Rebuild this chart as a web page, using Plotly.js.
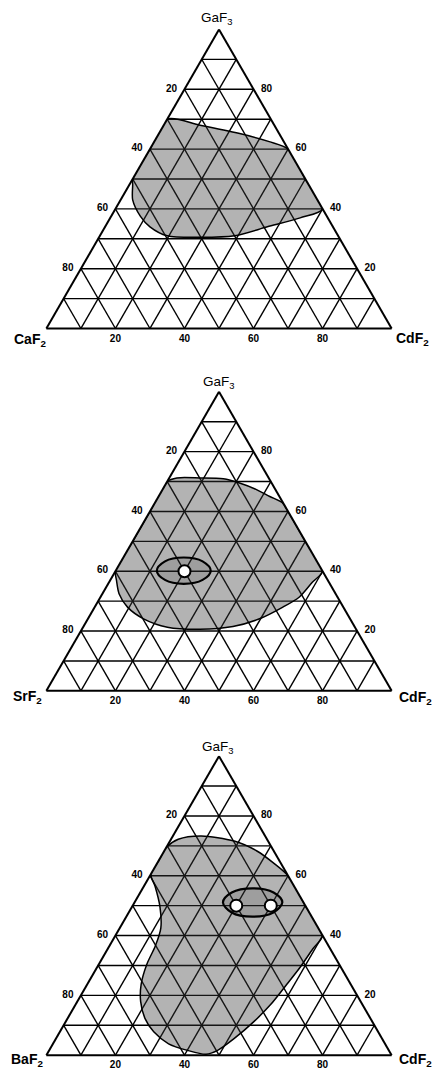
<!DOCTYPE html>
<html>
<head>
<meta charset="utf-8">
<script src="https://cdn.plot.ly/plotly-3.0.1.min.js"></script>
<style>
  html, body { margin: 0; padding: 0; background: #fff; }
  #chart { width: 434px; height: 1070px; }
</style>
</head>
<body>
<div id="chart"></div>
<script>
// Glass-forming regions in GaF3 – MF2 – CdF2 systems (M = Ca, Sr, Ba), mol %.

// Grid every 10 %, labelled at 20/40/60/80 along each edge.
// Left/right edge labels carry a little non-breaking padding to sit clear of the edge.
const gridVals     = [10, 20, 30, 40, 50, 60, 70, 80, 90];
const leftLabels   = ['', '80\u00a0\u00a0', '', '60\u00a0\u00a0', '', '40\u00a0\u00a0', '', '20\u00a0\u00a0', ''];
const bottomLabels = ['', '80', '', '60', '', '40', '', '20', ''];
const rightLabels  = ['', '\u00a0\u00a080', '', '\u00a0\u00a060', '', '\u00a0\u00a040', '', '\u00a0\u00a020', ''];

// GaF3 – CaF2 – CdF2 glass region boundary
const caGa = [70, 68, 65.2, 62.5, 60, 50, 40, 37, 34, 31, 30.5, 31, 34, 37.5, 43, 48, 50, 60, 70];
const caCa = [30, 21.5, 11.4, 4.2, 0, 0, 0, 8, 19, 30, 40, 49.5, 53, 54, 53.5, 51, 50, 40, 30];
const caCd = [0, 10.5, 23.4, 33.3, 40, 50, 60, 55, 47, 39, 29.5, 19.5, 13, 8.5, 3.5, 1, 0, 0, 0];

// GaF3 – SrF2 – CdF2 glass region boundary
const srGa = [70, 71.2, 71.2, 70.9, 69.5, 67.3, 65, 62.8, 60, 50, 40, 36.4, 31.4, 28, 24.1, 21.5, 20.6, 21.3, 24.1, 28, 32.5, 37, 40, 50, 60, 70];
const srSr = [30, 26.6, 19.9, 13.3, 9.3, 5.5, 2.8, 0.1, 0, 0, 0, 4.7, 11, 17.5, 26.2, 35.2, 45.2, 54.3, 59.8, 62.5, 62.7, 61.2, 60, 50, 40, 30];
const srCd = [0, 2.2, 8.9, 15.8, 21.2, 27.2, 32.2, 37.1, 40, 50, 60, 58.9, 57.6, 54.5, 49.7, 43.3, 34.2, 24.4, 16.1, 9.5, 4.8, 1.8, 0, 0, 0, 0];
// inner contour around the SrF2 composition point
const srLoopGa = [40.2, 43.3, 44.6, 43.3, 40.2, 37.1, 35.8, 37.1, 40.2];
const srLoopSr = [47.9, 44.0, 37.9, 33.1, 32.3, 36.2, 42.3, 47.1, 47.9];
const srLoopCd = [11.9, 12.7, 17.5, 23.6, 27.5, 26.7, 21.9, 15.8, 11.9];
const srPointGa = [40];
const srPointSr = [40];
const srPointCd = [20];

// GaF3 – BaF2 – CdF2 glass region boundary
const baGa = [69.5, 72.2, 73.3, 71.6, 68.2, 64.3, 60, 50, 40, 35.5, 29.3, 23.7, 16.9, 11.2, 5.5, 1.6, 0.3, 1.6, 3.8, 7.8, 12.3, 18, 23.7, 30.4, 36.5, 42.5, 49.6, 56.4, 60.5, 65, 69.5];
const baBa = [30.5, 25.7, 18.5, 9.8, 4.8, 2.1, 0, 0, 0, 5.1, 11.9, 18.5, 26.6, 34.3, 42.9, 49.6, 53.6, 58.3, 62.7, 65, 65.3, 63.7, 60.7, 55.7, 50.2, 45.6, 42.3, 40.3, 39.5, 35, 30.5];
const baCd = [0, 2.1, 8.2, 18.6, 27, 33.6, 40, 50, 60, 59.4, 58.8, 57.8, 56.5, 54.5, 51.6, 48.8, 46.1, 40.1, 33.5, 27.2, 22.4, 18.3, 15.6, 13.9, 13.3, 11.9, 8.1, 3.3, 0, 0, 0];
const baLoopGa = [51.1, 54.4, 55.8, 54.4, 51.1, 47.7, 46.3, 47.7, 51.1];
const baLoopBa = [23.3, 19.1, 12.4, 7.0, 6.1, 10.4, 17.2, 22.5, 23.3];
const baLoopCd = [25.6, 26.5, 31.8, 38.6, 42.8, 41.9, 36.5, 29.8, 25.6];
const baPointGa = [50, 50];
const baPointBa = [20, 10];
const baPointCd = [30, 40];

// ---------- page geometry ----------
const W = 434, H = 1070, ML = 22, MR = 18;
const PW = W - ML - MR;
const px2x = px => (px - ML) / PW;
const py2y = py => 1 - py / H;
const HALF = 149.5 / H;           // half height of each triangle in paper units
const centres = [179, 541.35, 905.65];  // vertical centres (px)

const FONT = 'Liberation Sans, Arial, Helvetica, sans-serif';

function axis(labels) {
  return {
    tickmode: 'array', tickvals: gridVals, ticktext: labels,
    ticks: '', showticklabels: true,
    tickfont: { family: FONT, size: 10, color: '#000', weight: 'bold' },
    showgrid: true, gridcolor: '#000', gridwidth: 1.4,
    showline: true, linecolor: '#000', linewidth: 2,
    title: { text: '' }
  };
}
function ternary(cy) {
  const c = 1 - cy / H;
  return {
    sum: 100,
    bgcolor: '#fff',
    domain: { x: [0, 1], y: [c - HALF, c + HALF] },
    aaxis: axis(leftLabels), baxis: axis(bottomLabels), caxis: axis(rightLabels)
  };
}

const REGION_FILL = 'rgba(55,55,55,0.38)';
function region(a, b, c, subplot) {
  return {
    type: 'scatterternary', subplot: subplot, mode: 'lines',
    a: a, b: b, c: c, fill: 'toself', fillcolor: REGION_FILL,
    line: { color: '#000', width: 1.5, shape: 'spline', smoothing: 0.8 },
    hoverinfo: 'skip'
  };
}
function loop(a, b, c, subplot) {
  return {
    type: 'scatterternary', subplot: subplot, mode: 'lines',
    a: a, b: b, c: c, fill: 'toself', fillcolor: 'rgba(40,40,40,0.15)',
    line: { color: '#000', width: 2.2, shape: 'spline', smoothing: 1 },
    hoverinfo: 'skip'
  };
}
function points(a, b, c, subplot) {
  return {
    type: 'scatterternary', subplot: subplot, mode: 'markers',
    a: a, b: b, c: c,
    marker: { size: 12, color: '#fff', line: { color: '#000', width: 2 } },
    hoverinfo: 'skip'
  };
}

const data = [
  region(caGa, caCa, caCd, 'ternary'),
  region(srGa, srSr, srCd, 'ternary2'),
  loop(srLoopGa, srLoopSr, srLoopCd, 'ternary2'),
  points(srPointGa, srPointSr, srPointCd, 'ternary2'),
  region(baGa, baBa, baCd, 'ternary3'),
  loop(baLoopGa, baLoopBa, baLoopCd, 'ternary3'),
  points(baPointGa, baPointBa, baPointCd, 'ternary3')
];

// corner component labels
function label(text, px, py, size, weight) {
  return {
    text: text, xref: 'paper', yref: 'paper',
    x: px2x(px), y: py2y(py), xanchor: 'center', yanchor: 'middle',
    showarrow: false,
    font: { family: FONT, size: size, color: '#000', weight: weight }
  };
}
const annotations = [
  label('GaF<sub>3</sub>', 216.5, 19, 13.5, 'normal'),
  label('CaF<sub>2</sub>', 29.5, 340, 14, 'bold'),
  label('CdF<sub>2</sub>', 412.5, 339, 14, 'bold'),
  label('GaF<sub>3</sub>', 219, 382, 13.5, 'normal'),
  label('SrF<sub>2</sub>', 27.5, 697, 14, 'bold'),
  label('CdF<sub>2</sub>', 415, 698, 14, 'bold'),
  label('GaF<sub>3</sub>', 218, 747, 13.5, 'normal'),
  label('BaF<sub>2</sub>', 26.5, 1060, 14, 'bold'),
  label('CdF<sub>2</sub>', 415, 1060, 14, 'bold')
];

const layout = {
  width: W, height: H,
  margin: { l: ML, r: MR, t: 0, b: 0, pad: 0 },
  paper_bgcolor: '#fff',
  showlegend: false,
  font: { family: FONT, color: '#000' },
  ternary: ternary(centres[0]),
  ternary2: ternary(centres[1]),
  ternary3: ternary(centres[2]),
  annotations: annotations
};

Plotly.newPlot('chart', data, layout, { displayModeBar: false, staticPlot: true });
</script>
</body>
</html>
